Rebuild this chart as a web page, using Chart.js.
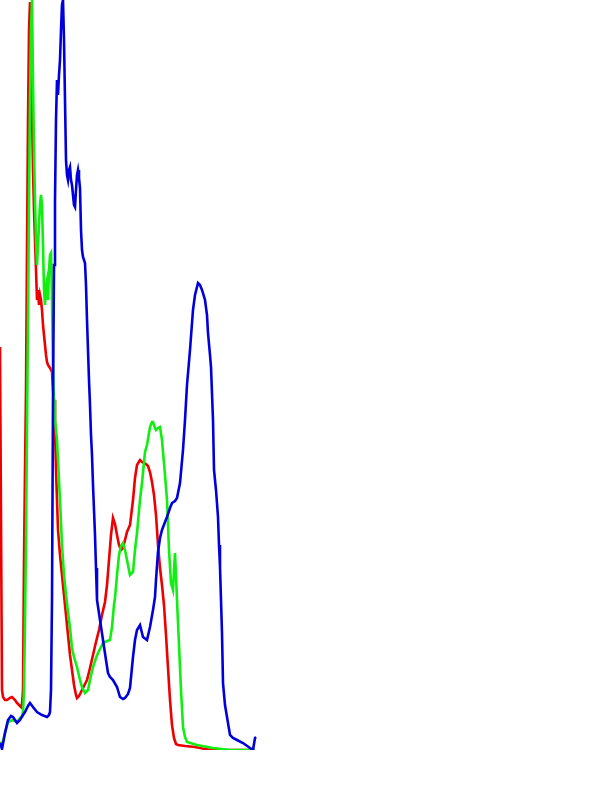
<!DOCTYPE html>
<html>
<head>
<meta charset="utf-8">
<script src="https://cdn.jsdelivr.net/npm/chart.js@4"></script>
<style>
  html, body { margin: 0; padding: 0; background: #fff; }
  canvas { display: block; }
</style>
</head>
<body>
<canvas id="histograma" width="600" height="800"></canvas>
<script>
// Histograma RGB: nivel (0-255) y cantidad de pixeles de cada canal

const nivelesRojo = [0, 2, 3, 5, 7, 10, 12, 15, 17, 19, 21, 22, 23, 24, 25, 26, 27, 28, 29, 30, 31, 32, 33, 34, 35, 36, 37, 38, 39, 40, 41, 42, 43, 44, 45, 46, 47, 48, 50, 52, 53, 54, 55, 56, 57, 58, 60, 62, 64, 66, 68, 70, 72, 74, 76, 77, 79, 81, 83, 85, 87, 90, 93, 96, 99, 102, 105, 107, 109, 111, 113, 115, 117, 119, 121, 123, 125, 127, 130, 133, 135, 137, 140, 142, 144, 146, 148, 150, 152, 154, 156, 158, 160, 162, 164, 166, 168, 170, 172, 174, 176, 178, 185, 195, 205, 213, 255]
const cantidadRojo = [403, 60, 53, 50, 50, 52, 53, 50, 47, 45, 43, 46, 60, 190, 280, 360, 500, 630, 720, 748, 710, 640, 580, 540, 510, 480, 450, 460, 445, 455, 450, 440, 425, 415, 405, 395, 388, 385, 382, 378, 360, 350, 320, 280, 250, 220, 195, 175, 155, 135, 115, 95, 80, 65, 55, 52, 54, 58, 62, 66, 70, 82, 95, 108, 120, 135, 148, 165, 190, 215, 232, 226, 215, 205, 200, 202, 210, 218, 225, 250, 272, 285, 290, 288, 287, 286, 284, 278, 268, 255, 235, 205, 182, 165, 145, 115, 82, 50, 25, 12, 6, 5, 4, 3, 1, 0, 0]

const nivelesVerde = [0, 2, 5, 8, 13, 17, 20, 22, 23, 24, 25, 26, 27, 28, 29, 30, 31, 32, 33, 34, 35, 36, 37, 38, 39, 40, 41, 42, 43, 44, 45, 46, 47, 48, 49, 50, 51, 52, 53, 54, 55, 56, 57, 58, 60, 62, 64, 66, 68, 70, 72, 74, 77, 80, 82, 85, 88, 90, 93, 96, 98, 101, 103, 107, 110, 112, 114, 115, 117, 119, 121, 123, 125, 127, 130, 133, 135, 137, 140, 142, 145, 147, 150, 152, 153, 155, 156, 158, 160, 162, 163, 165, 167, 169, 171, 173, 174, 175, 176, 177, 179, 181, 183, 185, 187, 197, 213, 230, 255]
const cantidadVerde = [8, 5, 17, 28, 30, 28, 32, 34, 38, 60, 130, 210, 320, 430, 550, 650, 720, 750, 670, 600, 550, 510, 485, 505, 525, 545, 555, 545, 505, 460, 445, 465, 470, 450, 480, 495, 497, 450, 380, 350, 330, 320, 310, 290, 250, 205, 175, 155, 138, 122, 102, 93, 83, 70, 63, 57, 60, 70, 83, 92, 97, 103, 107, 109, 110, 123, 145, 152, 175, 195, 204, 207, 200, 190, 175, 178, 200, 217, 250, 267, 298, 305, 323, 328, 328, 322, 320, 322, 323, 310, 298, 275, 250, 200, 167, 160, 180, 197, 175, 150, 105, 60, 23, 13, 8, 5, 2, 0, 0]

const nivelesAzul = [0, 2, 5, 8, 11, 13, 15, 17, 20, 23, 25, 28, 30, 33, 37, 42, 47, 49, 50, 51, 52, 53, 54, 55, 56, 57, 58, 59, 60, 61, 62, 63, 64, 65, 66, 67, 68, 69, 70, 71, 72, 73, 74, 75, 76, 77, 78, 79, 80, 81, 82, 83, 85, 86, 87, 88, 89, 90, 91, 92, 93, 94, 95, 96, 97, 100, 103, 106, 108, 110, 113, 117, 120, 123, 125, 128, 130, 133, 135, 137, 140, 143, 147, 150, 153, 155, 156, 158, 160, 162, 165, 167, 170, 172, 175, 177, 180, 183, 185, 187, 190, 193, 195, 197, 198, 200, 202, 205, 207, 208, 210, 211, 213, 214, 216, 218, 219, 220, 221, 222, 223, 225, 227, 230, 233, 237, 243, 250, 253, 255, 256]
const cantidadAzul = [7, 1, 17, 30, 34, 33, 30, 27, 30, 35, 38, 44, 47, 43, 38, 35, 33, 35, 38, 60, 150, 350, 485, 550, 630, 670, 655, 675, 690, 720, 745, 750, 710, 650, 590, 575, 570, 580, 583, 570, 565, 555, 545, 543, 560, 575, 580, 572, 562, 520, 500, 493, 487, 465, 430, 400, 370, 345, 315, 295, 265, 240, 215, 182, 150, 130, 110, 90, 77, 73, 70, 63, 53, 51, 52, 56, 62, 93, 110, 120, 125, 113, 110, 123, 140, 153, 170, 198, 212, 220, 228, 233, 242, 247, 249, 252, 267, 300, 330, 365, 400, 440, 455, 463, 467, 465, 460, 450, 435, 417, 395, 383, 330, 280, 260, 233, 205, 183, 150, 117, 67, 45, 33, 15, 12, 10, 7, 2, 0, 12, 13]

const canvas = document.querySelector("#histograma")
const ctx = canvas.getContext("2d")

// Convierte dos arrays en puntos {x, y}
const puntos = (niveles, cantidad) => niveles.map((n, i) => ({ x: n, y: cantidad[i] }))

const serie = (datos, color, orden) => ({
  data: datos,
  borderColor: color,
  borderWidth: 2.6,
  pointRadius: 0,
  tension: 0,
  fill: false,
  order: orden // el azul queda encima, el rojo debajo
})

new Chart(ctx, {
  type: "line",
  data: {
    datasets: [
      serie(puntos(nivelesRojo, cantidadRojo), "#ee0000", 3),
      serie(puntos(nivelesVerde, cantidadVerde), "#11ee11", 2),
      serie(puntos(nivelesAzul, cantidadAzul), "#0000dd", 1)
    ]
  },
  options: {
    responsive: false,
    animation: false,
    layout: { padding: { left: 0, right: 0, top: 0, bottom: 50 } },
    plugins: { legend: { display: false }, tooltip: { enabled: false } },
    scales: {
      x: { type: "linear", min: 0, max: 600, display: false },
      y: { min: 0, max: 750, display: false }
    }
  }
})
</script>
</body>
</html>
